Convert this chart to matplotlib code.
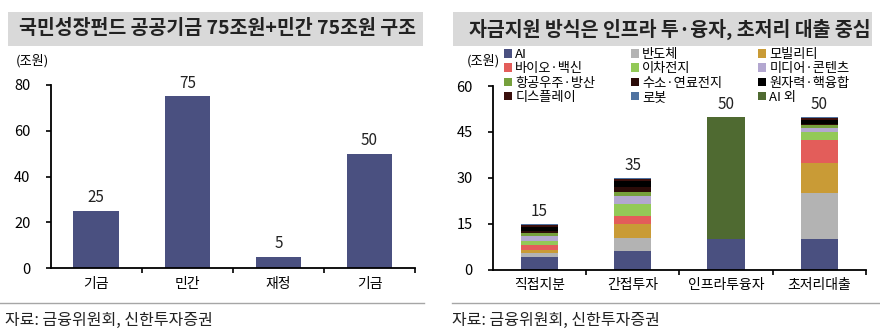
import matplotlib
matplotlib.use("Agg")
import matplotlib.pyplot as plt
from matplotlib.patches import Rectangle
from matplotlib.lines import Line2D
import numpy as np

plt.rcParams['font.family'] = ['Noto Sans CJK KR', 'DejaVu Sans']

# ---- left panel: fund structure (조원)
fund_title = '국민성장펀드 공공기금 75조원+민간 75조원 구조'
fund_categories = ['기금', '민간', '재정', '기금']
fund_values = [25, 75, 5, 50]
fund_yticks = [0, 20, 40, 60, 80]

# ---- right panel: support method by sector (조원)
method_title = '자금지원 방식은 인프라 투·융자, 초저리 대출 중심'
method_categories = ['직접지분', '간접투자', '인프라투융자', '초저리대출']
method_totals = [15, 35, 50, 50]
method_yticks = [0, 15, 30, 45, 60]
sector_names = ['AI', '반도체', '모빌리티', '바이오·백신', '이차전지', '미디어·콘텐츠',
                '항공우주·방산', '수소·연료전지', '원자력·핵융합', '디스플레이', '로봇', 'AI 외']
ai = [4, 6, 10, 10]
semiconductor = [1.5, 4.5, 0, 15]
mobility = [1, 4.5, 0, 10]
bio = [1.5, 2.5, 0, 7.5]
battery = [1.5, 4, 0, 2.5]
media = [1.5, 2.5, 0, 1.25]
aerospace = [1, 1.5, 0, 1]
hydrogen = [0.5, 1.5, 0, 0.5]
nuclear = [1.5, 2, 0, 1]
display = [0.5, 0.5, 0, 0.75]
robot = [0.5, 0.5, 0, 0.5]
non_ai = [0, 0, 40, 0]

source_text = '자료: 금융위원회, 신한투자증권'
unit_text = '(조원)'

NAVY = '#4a5080'
sector_colors = ['#4a5080', '#b3b3b3', '#c99b36', '#e35d5a', '#93c957', '#b3a7d0',
                 '#76a03c', '#2b0b08', '#000000', '#3a0f0c', '#4f72a0', '#4f6a31']
sector_values = [ai, semiconductor, mobility, bio, battery, media,
                 aerospace, hydrogen, nuclear, display, robot, non_ai]

W, H = 880, 336
fig = plt.figure(figsize=(W / 100, H / 100), dpi=100)


def fx(px):
    return px / W


def fy(py):
    return 1 - py / H


def style_axes(ax, n):
    for s in ('top', 'right'):
        ax.spines[s].set_visible(False)
    for s in ('left', 'bottom'):
        ax.spines[s].set_linewidth(1.3)
        ax.spines[s].set_color('black')
    ax.set_xlim(-0.5, n - 0.5)
    ax.set_xticks(np.arange(n))
    ax.set_xticks(np.arange(0.5, n, 1.0), minor=True)
    ax.tick_params(axis='x', which='major', length=0, pad=6, labelsize=10)
    ax.tick_params(axis='x', which='minor', length=3.5, width=1.2, direction='out')
    ax.tick_params(axis='y', which='major', length=3.5, width=1.2, direction='out',
                   pad=11, labelsize=10.5)


# title bars
for x0, x1, title, tx in ((8, 423, fund_title, 19), (453, 872, method_title, 469)):
    fig.patches.append(Rectangle((fx(x0), fy(45.5)), fx(x1) - fx(x0), fy(12) - fy(45.5),
                                 transform=fig.transFigure, facecolor='#d9d9d9',
                                 edgecolor='none'))
    fig.text(fx(tx), fy(29), title, fontsize=14, fontweight='bold',
             color='#222222', va='center', ha='left')

# ---- left chart
axL = fig.add_axes([fx(50.7), fy(268.3), fx(415) - fx(50.7), fy(85) - fy(268.3)])
xl = np.arange(len(fund_categories))
barsL = axL.bar(xl, fund_values, width=0.5, color=NAVY)
axL.set_ylim(0, 80)
axL.set_yticks(fund_yticks)
axL.set_xticklabels(fund_categories)
style_axes(axL, len(fund_categories))
for xi, v in zip(xl, fund_values):
    axL.annotate(f'{v}', (xi, v), xytext=(0, 3.5), textcoords='offset points',
                 ha='center', va='bottom', fontsize=11, color='#222222')
fig.text(fx(16), fy(61), unit_text, fontsize=9.5, va='center', ha='left')

# ---- right chart
axR = fig.add_axes([fx(492.7), fy(269.7), fx(865.9) - fx(492.7), fy(86) - fy(269.7)])
xr = np.arange(len(method_categories))
bottom = np.zeros(len(method_categories))
containers = []
for name, vals, col in zip(sector_names, sector_values, sector_colors):
    vals = np.asarray(vals, dtype=float)
    c = axR.bar(xr, vals, width=0.4, bottom=bottom, color=col, label=name)
    containers.append(c)
    bottom += vals
axR.set_ylim(0, 60)
axR.set_yticks(method_yticks)
axR.set_xticklabels(method_categories)
style_axes(axR, len(method_categories))
for xi, top, t in zip(xr, bottom, method_totals):
    axR.annotate(f'{t}', (xi, top), xytext=(0, 2.5), textcoords='offset points',
                 ha='center', va='bottom', fontsize=11, color='#222222')
fig.text(fx(467), fy(61), unit_text, fontsize=9.5, va='center', ha='left')

# legend: three columns, filled row by row
col_x = [504, 631, 758]
for ci, x0 in enumerate(col_x):
    idx = list(range(ci, len(sector_names), 3))
    fig.legend([containers[i] for i in idx], [sector_names[i] for i in idx],
               loc='upper left', bbox_to_anchor=(fx(x0), fy(48)), frameon=False,
               fontsize=9.5, handlelength=0.6, handleheight=0.6, handletextpad=0.25,
               labelspacing=0.1, borderpad=0, borderaxespad=0)

# footer
for x0, x1 in ((0, 424), (452, 880)):
    fig.add_artist(Line2D([fx(x0), fx(x1)], [fy(303), fy(303)], transform=fig.transFigure,
                          color='#a6a6a6', lw=1))
fig.text(fx(5), fy(320), source_text, fontsize=11.5, va='center', ha='left', color='#222222')
fig.text(fx(452), fy(320), source_text, fontsize=11.5, va='center', ha='left', color='#222222')

fig.savefig('out.png', dpi=100)
